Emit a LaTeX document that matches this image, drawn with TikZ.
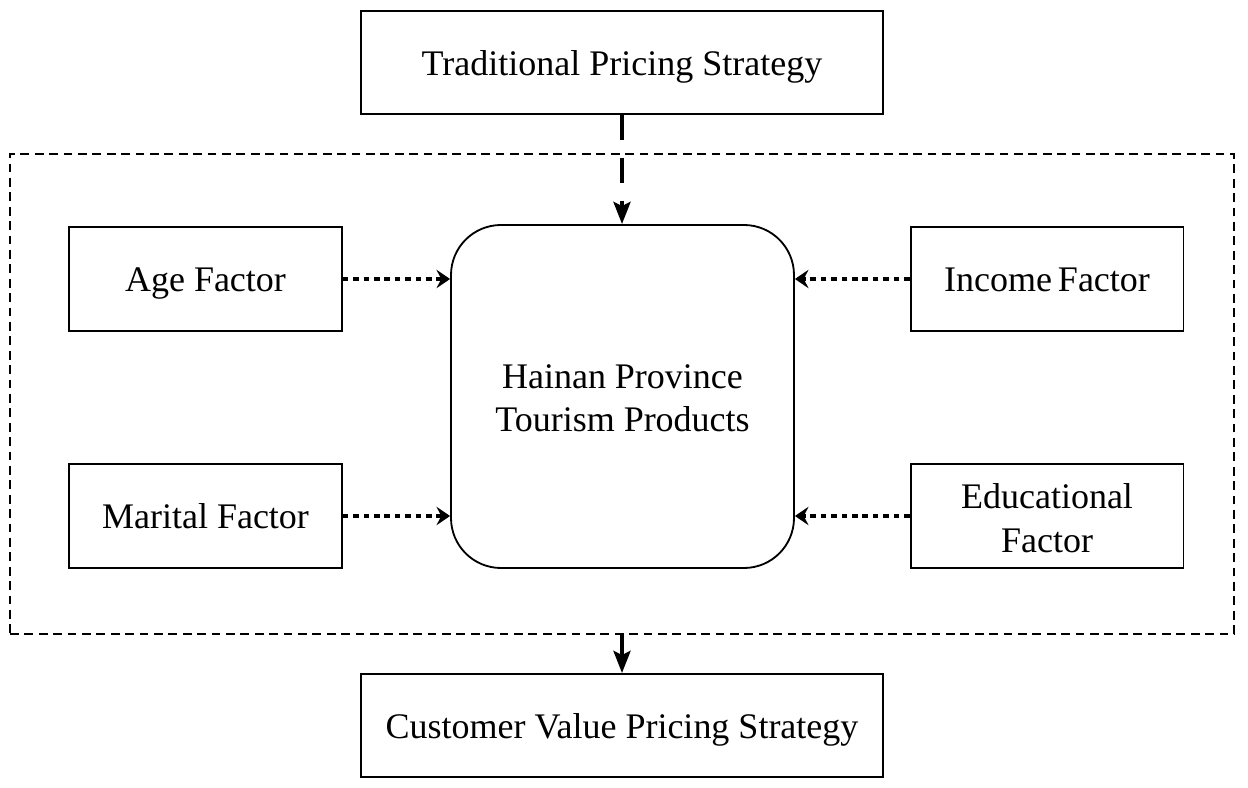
\documentclass[tikz,border=0pt]{standalone}
\usepackage{fontspec}
\setmainfont{Liberation Serif}
\usepackage{tikz}
\usetikzlibrary{calc}
\usetikzlibrary{arrows.meta}
\usetikzlibrary{positioning}

\tikzset{
  plainbox/.style={draw, line width=1.3pt, align=center, inner sep=0pt,
                   font=\fontsize{25.6}{31.2}\selectfont, text height=24.4pt, text depth=6pt},
  strategybox/.style={plainbox, minimum width=13.05cm, minimum height=2.575cm},
  factorbox/.style={plainbox, minimum width=6.82cm, minimum height=2.6cm},
  twolines/.style={text height=58.4pt},
  hubbox/.style={plainbox, rounded corners=1.25cm, minimum width=8.575cm, minimum height=8.575cm,
                 text height=56.4pt},
  dottedarrow/.style={line width=3.5pt, dash pattern=on 0.14cm off 0.12cm,
                      -{Stealth[length=0.34cm, width=0.46cm, inset=0.12cm]}},
  dashedarrow/.style={line width=3.4pt, dash pattern=on 0.62cm off 0.45cm,
                      -{Stealth[length=0.55cm, width=0.42cm, inset=0.1cm]}},
  solidarrow/.style={line width=3.4pt, -{Stealth[length=0.55cm, width=0.42cm, inset=0.1cm]}}
}

\begin{document}
\begin{tikzpicture}
            \useasboundingbox (0,0) rectangle (31.2,-19.7);
            % outer dashed frame
            \node[draw, line width=1.1pt, dash pattern=on 0.22cm off 0.14cm,
                  minimum width=30.6cm, minimum height=12cm, inner sep=0pt] (frame) at (15.55,-9.85) {};
            \node[strategybox] (old)    at (15.55,-1.5625)   {Traditional Pricing Strategy};
            \node[strategybox] (new)    at (15.55,-18.1375)  {Customer Value Pricing Strategy};
            \node[hubbox]      (hub)    at (15.5625,-9.9125) {Hainan Province\\Tourism Products};
            \node[factorbox]   (age)    at (5.1375,-6.975)   {Age Factor};
            \node[factorbox]   (marital)at (5.1375,-12.9)    {Marital Factor};
            \node[factorbox]   (income) at (26.175,-6.975)   {Income\,Factor};
            \node[factorbox, twolines] (edu) at (26.175,-12.9) {Educational\\Factor};
            % connectors
            \draw[dashedarrow] (old.south) -- (old.south |- hub.north);
            \draw[dottedarrow] (age.east) -- (age -| hub.west);
            \draw[dottedarrow] (marital.east) -- (marital -| hub.west);
            \draw[dottedarrow] (income.west) -- (income -| hub.east);
            \draw[dottedarrow] (edu.west) -- (edu -| hub.east);
            \draw[solidarrow] (frame.south) -- (new.north);
\end{tikzpicture}
\end{document}
